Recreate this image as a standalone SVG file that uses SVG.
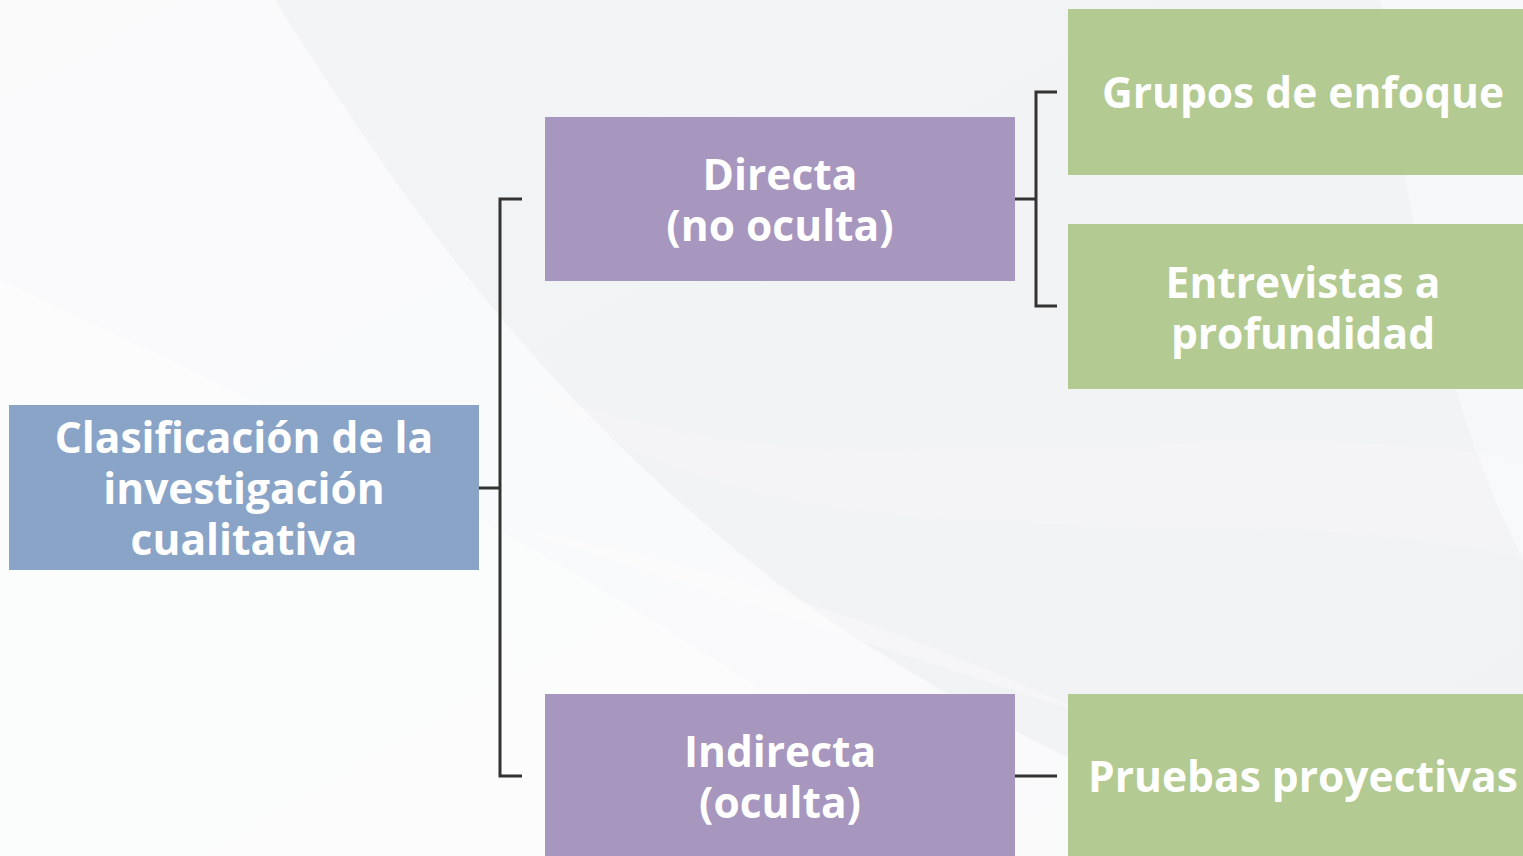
<svg xmlns="http://www.w3.org/2000/svg" width="1523" height="856" viewBox="0 0 1523 856">
<defs>
<linearGradient id="bg" x1="0" y1="0" x2="1" y2="1">
<stop offset="0" stop-color="#f3f4f6"/>
<stop offset="1" stop-color="#f1f2f4"/>
</linearGradient>
<style>
.t{font-family:"Open Sans","Noto Sans",sans-serif;font-weight:700;font-size:42.5px;fill:#ffffff;text-anchor:middle}
.c{fill:none;stroke:#333333;stroke-width:3}
</style>
</defs>
<rect width="1523" height="856" fill="url(#bg)"/>
<g id="background" fill="#ffffff">
<path d="M0 0 H275 C420 230 560 420 800 600 C1000 740 1200 820 1300 856 H0 Z" opacity="0.55"/>
<path d="M0 280 C300 420 600 560 1000 856 H0 Z" opacity="0.35"/>
<path d="M520 530 C800 580 1100 700 1350 856 H1523 V856 Z" opacity="0.3"/>
<path d="M1380 0 H1523 V560 C1450 420 1400 200 1380 0 Z" opacity="0.4"/>
<path d="M520 380 C800 520 1200 400 1523 460 V560 C1200 480 800 600 520 380 Z" opacity="0.15"/>
</g>
<g id="connectors">
<path class="c" d="M479 488 H500 M522 199 H500 V776 H522"/>
<path class="c" d="M1015 199 H1036 M1057 92 H1036 V306 H1057"/>
<path class="c" d="M1015 776 H1057"/>
</g>
<g id="root">
<rect x="9" y="405" width="470" height="165" fill="#8aa4c8"/>
<text class="t" x="244" y="453">Clasificación de la</text>
<text class="t" x="244" y="504">investigación</text>
<text class="t" x="244" y="555">cualitativa</text>
</g>
<g id="directa">
<rect x="545" y="117" width="470" height="164" fill="#a796be"/>
<text class="t" x="780" y="190">Directa</text>
<text class="t" x="780" y="241">(no oculta)</text>
</g>
<g id="indirecta">
<rect x="545" y="694" width="470" height="170" fill="#a796be"/>
<text class="t" x="780" y="767">Indirecta</text>
<text class="t" x="780" y="818">(oculta)</text>
</g>
<g id="grupos">
<rect x="1068" y="9" width="460" height="166" fill="#b3ca92"/>
<text class="t" x="1303" y="108">Grupos de enfoque</text>
</g>
<g id="entrevistas">
<rect x="1068" y="224" width="460" height="165" fill="#b3ca92"/>
<text class="t" x="1303" y="298">Entrevistas a</text>
<text class="t" x="1303" y="349">profundidad</text>
</g>
<g id="pruebas">
<rect x="1068" y="694" width="460" height="170" fill="#b3ca92"/>
<text class="t" x="1303" y="792">Pruebas proyectivas</text>
</g>
</svg>
